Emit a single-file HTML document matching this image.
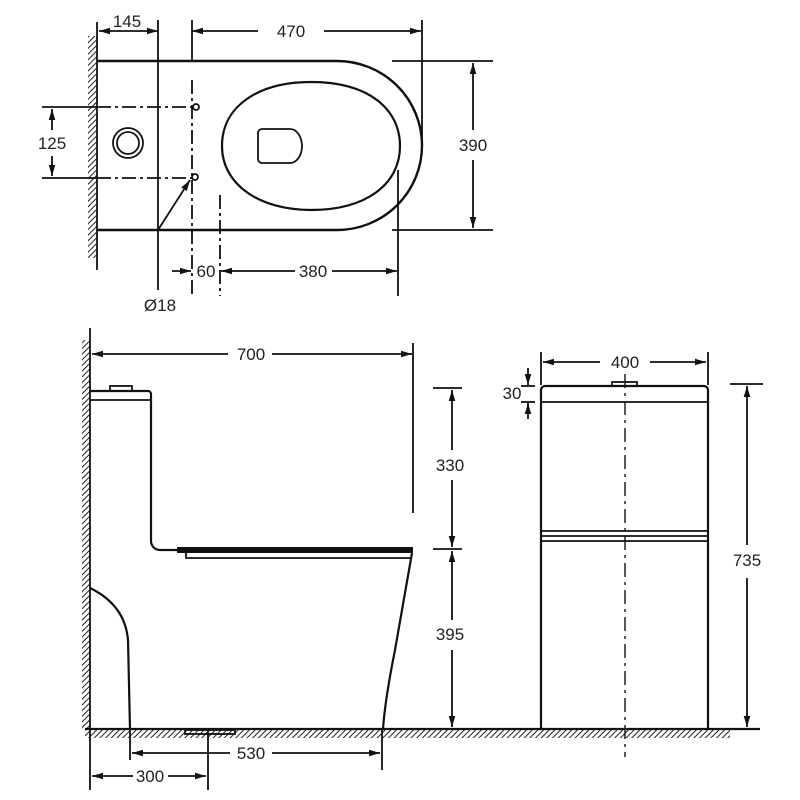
<!DOCTYPE html>
<html><head><meta charset="utf-8"><style>
html,body{margin:0;padding:0;background:#fff}
svg{display:block}
text{font-family:"Liberation Sans",sans-serif;font-size:17px;fill:#222;text-anchor:middle}
</style></head><body>
<svg width="800" height="800" viewBox="0 0 800 800" xmlns="http://www.w3.org/2000/svg">
<defs>
<marker id="a" viewBox="0 0 10 6" refX="10" refY="3" markerWidth="11" markerHeight="7" markerUnits="userSpaceOnUse" orient="auto-start-reverse"><path d="M0,0 L10,3 L0,6 Z" fill="#111"/></marker>
<pattern id="h" width="4" height="4" patternUnits="userSpaceOnUse" patternTransform="rotate(45)"><rect width="4" height="4" fill="#fff"/><line x1="0" y1="0" x2="0" y2="4" stroke="#222" stroke-width="2"/></pattern>
</defs>
<g stroke="#111" fill="none" stroke-width="1.8">
<!-- TOP VIEW -->
<rect x="88" y="36" width="9" height="222" fill="url(#h)" stroke="none"/>
<line x1="97" y1="22" x2="97" y2="270"/>
<path d="M97,61 H337 A85,84.5 0 0 1 337,230 H97" stroke-width="2.4"/>
<line x1="158" y1="20" x2="158" y2="290"/>
<line x1="192" y1="20" x2="192" y2="61"/>
<line x1="192" y1="80" x2="192" y2="296" stroke-dasharray="14,4,3,4"/>
<line x1="422" y1="20" x2="422" y2="145"/>
<line x1="99" y1="31" x2="158" y2="31" marker-start="url(#a)" marker-end="url(#a)"/>
<line x1="192" y1="31" x2="258" y2="31" marker-start="url(#a)"/>
<line x1="324" y1="31" x2="421" y2="31" marker-end="url(#a)"/>
<line x1="42" y1="107" x2="97" y2="107"/>
<line x1="97" y1="107" x2="192" y2="107" stroke-dasharray="14,4,3,4"/>
<line x1="42" y1="178" x2="97" y2="178"/>
<line x1="97" y1="178" x2="192" y2="178" stroke-dasharray="14,4,3,4"/>
<line x1="52" y1="130" x2="52" y2="109" marker-end="url(#a)"/>
<line x1="52" y1="156" x2="52" y2="176" marker-end="url(#a)"/>
<circle cx="128" cy="143" r="15"/>
<circle cx="128" cy="143" r="11"/>
<circle cx="196" cy="107" r="3"/>
<circle cx="195" cy="177" r="3"/>
<line x1="158" y1="230" x2="190" y2="180" marker-end="url(#a)"/>
<path d="M311,82 C370,82 400,110 400,146 C400,185 365,210 311,210 C260,210 222,185 222,146 C222,105 260,82 311,82 Z" stroke-width="2.2"/>
<path d="M262,129 H290 A12,17 0 0 1 290,163 H262 A4,4 0 0 1 258,159 V133 A4,4 0 0 1 262,129 Z"/>
<line x1="392" y1="61" x2="493" y2="61"/>
<line x1="392" y1="230" x2="493" y2="230"/>
<line x1="473" y1="130" x2="473" y2="63" marker-end="url(#a)"/>
<line x1="473" y1="160" x2="473" y2="228" marker-end="url(#a)"/>
<line x1="220" y1="195" x2="220" y2="296" stroke-dasharray="14,4,3,4"/>
<line x1="398" y1="170" x2="398" y2="296"/>
<line x1="172" y1="271" x2="191" y2="271" marker-end="url(#a)"/>
<line x1="295" y1="271" x2="221" y2="271" marker-end="url(#a)"/>
<line x1="332" y1="271" x2="397" y2="271" marker-end="url(#a)"/>
<!-- SIDE VIEW -->
<rect x="82" y="340" width="8" height="390" fill="url(#h)" stroke="none"/>
<rect x="85" y="730" width="645" height="8" fill="url(#h)" stroke="none"/>
<line x1="90" y1="328" x2="90" y2="790"/>
<line x1="85" y1="729" x2="760" y2="729" stroke-width="2.2"/>
<line x1="92" y1="354" x2="228" y2="354" marker-start="url(#a)"/>
<line x1="272" y1="354" x2="412" y2="354" marker-end="url(#a)"/>
<line x1="413" y1="343" x2="413" y2="513"/>
<path d="M90,391 H148 A3,3 0 0 1 151,394 V541 A9,9 0 0 0 160,550 H177" stroke-width="2.2"/>
<line x1="90" y1="400" x2="150" y2="400"/>
<rect x="110" y="386" width="22" height="5"/>
<rect x="177" y="547" width="236" height="6" fill="#111" stroke="none"/>
<path d="M186,553 V558 H410"/>
<path d="M412,553 L395,650 Q385,700 383,729" stroke-width="2.2"/>
<path d="M90,588 Q125,605 128,640 L130,729" stroke-width="2.2"/>
<rect x="185" y="730" width="50" height="4"/>
<line x1="433" y1="388" x2="462" y2="388"/>
<line x1="433" y1="549" x2="462" y2="549"/>
<line x1="452" y1="450" x2="452" y2="390" marker-end="url(#a)"/>
<line x1="452" y1="480" x2="452" y2="547" marker-end="url(#a)"/>
<line x1="452" y1="620" x2="452" y2="551" marker-end="url(#a)"/>
<line x1="452" y1="650" x2="452" y2="727" marker-end="url(#a)"/>
<line x1="130" y1="729" x2="130" y2="760"/>
<line x1="382" y1="729" x2="382" y2="770"/>
<line x1="208" y1="730" x2="208" y2="790"/>
<line x1="132" y1="753" x2="230" y2="753" marker-start="url(#a)"/>
<line x1="272" y1="753" x2="380" y2="753" marker-end="url(#a)"/>
<line x1="92" y1="776" x2="133" y2="776" marker-start="url(#a)"/>
<line x1="168" y1="776" x2="206" y2="776" marker-end="url(#a)"/>
<!-- FRONT VIEW -->
<line x1="541" y1="352" x2="541" y2="385"/>
<line x1="708" y1="352" x2="708" y2="385"/>
<line x1="543" y1="362" x2="600" y2="362" marker-start="url(#a)"/>
<line x1="650" y1="362" x2="706" y2="362" marker-end="url(#a)"/>
<path d="M541,729 V390 A4,4 0 0 1 545,386 H704 A4,4 0 0 1 708,390 V729" stroke-width="2.2"/>
<line x1="541" y1="402" x2="708" y2="402"/>
<rect x="612" y="382" width="25" height="4"/>
<line x1="541" y1="531" x2="708" y2="531"/>
<line x1="541" y1="536" x2="708" y2="536"/>
<line x1="541" y1="541" x2="708" y2="541"/>
<line x1="625" y1="374" x2="625" y2="757" stroke-dasharray="14,5,3,5" stroke-width="1.4"/>
<line x1="521" y1="386" x2="535" y2="386"/>
<line x1="521" y1="402" x2="535" y2="402"/>
<line x1="528" y1="368" x2="528" y2="385" marker-end="url(#a)"/>
<line x1="528" y1="419" x2="528" y2="403" marker-end="url(#a)"/>
<line x1="730" y1="384" x2="763" y2="384"/>
<line x1="747" y1="545" x2="747" y2="386" marker-end="url(#a)"/>
<line x1="747" y1="578" x2="747" y2="727" marker-end="url(#a)"/>
</g>
<text x="127" y="27">145</text>
<text x="291" y="37">470</text>
<text x="52" y="149">125</text>
<text x="473" y="151">390</text>
<text x="206" y="277">60</text>
<text x="313" y="277">380</text>
<text x="160" y="311">Ø18</text>
<text x="251" y="360">700</text>
<text x="450" y="471">330</text>
<text x="450" y="640">395</text>
<text x="251" y="759">530</text>
<text x="150" y="782">300</text>
<text x="625" y="368">400</text>
<text x="512" y="399">30</text>
<text x="747" y="566">735</text>
</svg>
</body></html>
